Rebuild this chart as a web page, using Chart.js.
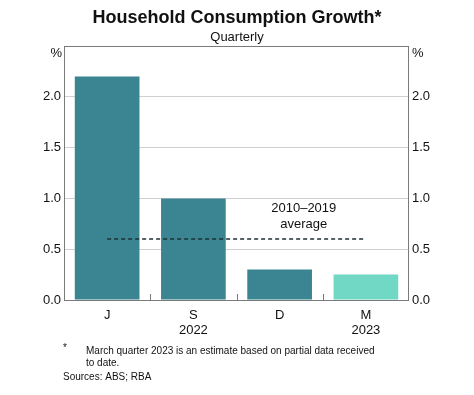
<!DOCTYPE html>
<html>
<head>
<meta charset="utf-8">
<script src="https://cdn.jsdelivr.net/npm/chart.js@4/dist/chart.umd.min.js"></script>
<style>
  html, body { margin: 0; padding: 0; background: #fff; }
  #wrap { width: 474px; height: 395px; position: relative; }
</style>
</head>
<body>
<div id="wrap"><canvas id="chart" width="474" height="395"></canvas></div>
<script>
var quarters = [["J"], ["S", "2022"], ["D"], ["M", "2023"]];
var growth = [2.2, 1.0, 0.3, 0.25];
var average = [0.6, 0.6, 0.6, 0.6];
var yTicks = [0, 0.5, 1.0, 1.5, 2.0, 2.5];

var teal = "#3b8592";
var lightTeal = "#70d8c4";
var font = "'Liberation Sans', Arial, sans-serif";

// title, box, axis marks and notes drawn on the canvas
var extras = {
  id: "extras",
  afterDatasetsDraw: function(chart) {
    var c = chart.ctx, a = chart.chartArea;
    var x = chart.scales.x, y = chart.scales.y;
    c.save();
    // box
    c.strokeStyle = "#7a7a7a";
    c.lineWidth = 1;
    c.strokeRect(Math.round(a.left) + 0.5, Math.round(a.top) + 0.5,
      Math.round(a.right - a.left) - 1, Math.round(a.bottom - a.top));
    // category ticks inside the box
    for (var i = 1; i < quarters.length; i++) {
      var px = Math.round(x.getPixelForValue(i - 0.5)) + 0.5;
      c.beginPath();
      c.moveTo(px, a.bottom);
      c.lineTo(px, a.bottom - 6);
      c.stroke();
    }
    c.fillStyle = "#111";
    c.textBaseline = "middle";
    // % units
    c.font = "13px " + font;
    c.textAlign = "right";
    c.fillText("%", a.left - 2, a.top + 7);
    c.textAlign = "left";
    c.fillText("%", a.right + 3, a.top + 7);
    // average label
    c.textAlign = "center";
    c.fillText("2010\u20132019", x.getPixelForValue(2.28), y.getPixelForValue(0.9));
    c.fillText("average", x.getPixelForValue(2.28), y.getPixelForValue(0.74));
    // title
    c.font = "bold 18px " + font;
    c.fillText("Household Consumption Growth*", 237, 18);
    c.font = "13px " + font;
    c.fillText("Quarterly", 237, 37);
    // notes
    c.font = "10px " + font;
    c.textAlign = "left";
    c.fillText("*", 63, 348);
    c.fillText("March quarter 2023 is an estimate based on partial data received", 86, 351);
    c.fillText("to date.", 86, 363);
    c.fillText("Sources: ABS; RBA", 63, 377);
    c.restore();
  }
};

new Chart(document.getElementById("chart"), {
  type: "bar",
  data: {
    labels: quarters,
    datasets: [
      {
        type: "line",
        label: "2010-2019 average",
        data: average,
        borderColor: "#1f3036",
        borderWidth: 1.5,
        borderDash: [4, 3],
        pointRadius: 0,
        fill: false,
        order: 0
      },
      {
        label: "Growth",
        data: growth,
        backgroundColor: [teal, teal, teal, lightTeal],
        barPercentage: 0.75,
        categoryPercentage: 1.0,
        order: 1
      }
    ]
  },
  options: {
    responsive: false,
    animation: false,
    devicePixelRatio: 1,
    layout: { padding: { top: 46, left: 0, right: 0, bottom: 0 } },
    plugins: {
      legend: { display: false },
      tooltip: { enabled: false },
      title: { display: false }
    },
    scales: {
      x: {
        offset: true,
        grid: { display: false },
        border: { display: false },
        ticks: {
          color: "#111",
          font: { family: font, size: 13, lineHeight: 1.15 },
          padding: 0,
          maxRotation: 0
        },
        afterFit: function(s) { s.height = 95; }
      },
      y: {
        position: "left",
        min: 0,
        max: 2.5,
        afterBuildTicks: function(s) { s.ticks = yTicks.map(function(v) { return { value: v }; }); },
        grid: {
          color: function(ctx) { return (ctx.tick && (ctx.tick.value === 0 || ctx.tick.value === 2.5)) ? "rgba(0,0,0,0)" : "#d0d0d0"; },
          drawTicks: false
        },
        border: { display: false },
        ticks: {
          color: "#111",
          font: { family: font, size: 13 },
          padding: 3,
          callback: function(v) { return v === 2.5 ? "" : v.toFixed(1); }
        },
        afterFit: function(s) { s.width = 64; }
      },
      y2: {
        position: "right",
        min: 0,
        max: 2.5,
        afterBuildTicks: function(s) { s.ticks = yTicks.map(function(v) { return { value: v }; }); },
        grid: { display: false, drawTicks: false },
        border: { display: false },
        ticks: {
          color: "#111",
          font: { family: font, size: 13 },
          padding: 3,
          callback: function(v) { return v === 2.5 ? "" : v.toFixed(1); }
        },
        afterFit: function(s) { s.width = 65; }
      }
    }
  },
  plugins: [extras]
});
</script>
</body>
</html>
